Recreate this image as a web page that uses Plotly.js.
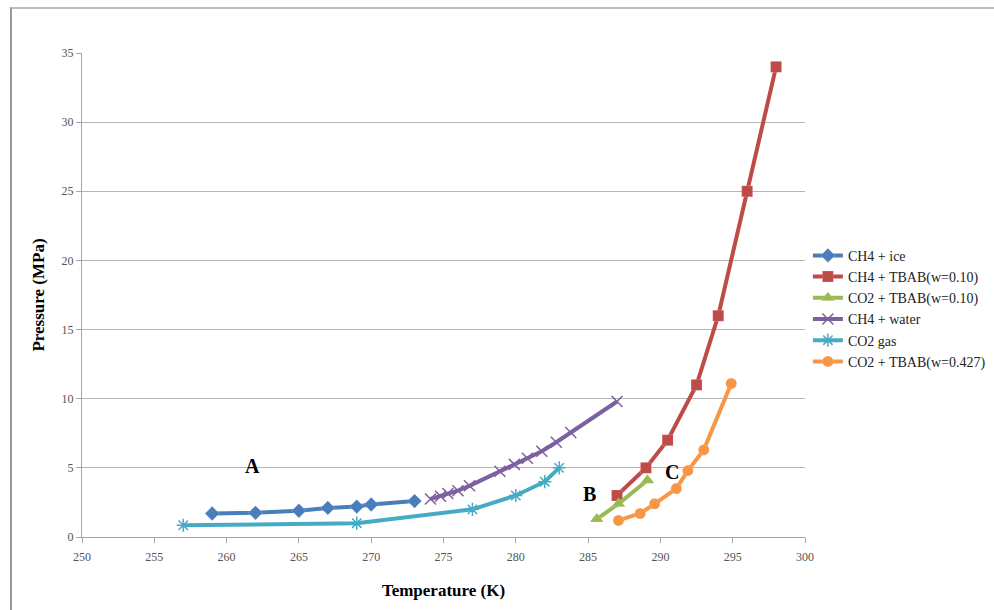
<!DOCTYPE html>
<html>
<head>
<meta charset="utf-8">
<script src="https://cdn.plot.ly/plotly-3.0.1.min.js"></script>
<style>
html,body{margin:0;padding:0;background:#fff;}
#wrap{position:relative;width:994px;height:610px;}
#chart{position:absolute;left:0;top:0;width:994px;height:610px;}
#frame{position:absolute;left:10px;top:7px;width:984px;height:603px;border-top:2px solid #bdbdbd;border-left:2px solid #9a9a9a;pointer-events:none;}
</style>
</head>
<body>
<div id="wrap"><div id="chart"></div><div id="frame"></div></div>
<script>
const ch4IceT = [259, 262, 265, 267, 269, 270, 273];
const ch4IceP = [1.7, 1.75, 1.9, 2.1, 2.2, 2.35, 2.6];

const ch4TbabT = [287, 289, 290.5, 292.5, 294, 296, 298];
const ch4TbabP = [3.0, 5.0, 7.0, 11.0, 16.0, 25.0, 34.0];

const co2Tbab10T = [285.6, 287.1, 289.1];
const co2Tbab10P = [1.3, 2.4, 4.1];

const ch4WaterT = [274.1, 274.8, 275.3, 276.0, 276.8, 278.9, 279.9, 280.8, 281.8, 282.8, 283.8, 287.0];
const ch4WaterP = [2.75, 2.95, 3.15, 3.35, 3.7, 4.75, 5.25, 5.7, 6.2, 6.85, 7.55, 9.8];

const co2GasT = [257, 269, 277, 280, 282, 283];
const co2GasP = [0.85, 1.0, 2.0, 3.0, 4.0, 5.0];

const co2Tbab427T = [287.1, 288.6, 289.6, 291.1, 291.9, 293.0, 294.9];
const co2Tbab427P = [1.2, 1.7, 2.4, 3.5, 4.8, 6.3, 11.1];

const names = ["CH4 + ice", "CH4 + TBAB(w=0.10)", "CO2 + TBAB(w=0.10)", "CH4 + water", "CO2 gas", "CO2 + TBAB(w=0.427)"];
const colors = ["#4a7ebb", "#be4b48", "#98b954", "#7d60a0", "#46aac5", "#f79646"];
const symbols = ["diamond", "square", "triangle-up", "x-thin", "asterisk", "circle"];
const xs = [ch4IceT, ch4TbabT, co2Tbab10T, ch4WaterT, co2GasT, co2Tbab427T];
const ys = [ch4IceP, ch4TbabP, co2Tbab10P, ch4WaterP, co2GasP, co2Tbab427P];

const xTicks = [250, 255, 260, 265, 270, 275, 280, 285, 290, 295, 300];
const yTicks = [0, 5, 10, 15, 20, 25, 30, 35];

const labels = [
  {text: "A", x: 261.8, y: 5.1},
  {text: "B", x: 285.1, y: 3.1},
  {text: "C", x: 290.8, y: 4.7}
];

const traces = names.map((n, i) => {
  const thin = symbols[i] === "x-thin" || symbols[i] === "asterisk";
  return {
    type: "scatter",
    mode: "lines+markers",
    name: n,
    x: xs[i],
    y: ys[i],
    line: {color: colors[i], width: 4},
    marker: {
      symbol: symbols[i],
      size: symbols[i] === "triangle-up" ? 12 : 11,
      color: colors[i],
      line: thin ? {color: colors[i], width: 1.5} : {color: "rgba(255,255,255,0.35)", width: 0.5}
    }
  };
});

const layout = {
  width: 994,
  height: 610,
  margin: {l: 82, r: 189, t: 53, b: 73, autoexpand: false},
  paper_bgcolor: "#ffffff",
  plot_bgcolor: "#ffffff",
  font: {family: "Liberation Serif, Times New Roman, serif", color: "#000"},
  showlegend: true,
  legend: {
    x: 1.004, y: 0.614, xanchor: "left", yanchor: "top",
    font: {family: "Liberation Serif, serif", size: 14, color: "#222"},
    tracegroupgap: 0, itemwidth: 30,
    bgcolor: "rgba(0,0,0,0)"
  },
  xaxis: {
    range: [250, 300],
    tickvals: xTicks,
    ticktext: xTicks.map(String),
    showgrid: false,
    zeroline: false,
    showline: true,
    linecolor: "#a6a6a6",
    linewidth: 1,
    ticks: "outside",
    ticklen: 5,
    tickcolor: "#a6a6a6",
    ticklabelstandoff: 4,
    tickfont: {family: "Liberation Serif, serif", size: 12, color: "#555"},
    title: {text: "<b>Temperature (K)</b>", font: {family: "Liberation Serif, serif", size: 17, color: "#000"}, standoff: 20}
  },
  yaxis: {
    range: [0, 35],
    tickvals: yTicks,
    ticktext: yTicks.map(String),
    showgrid: true,
    gridcolor: "#b5b5b5",
    gridwidth: 1,
    zeroline: false,
    showline: true,
    linecolor: "#a6a6a6",
    linewidth: 1,
    ticks: "outside",
    ticklen: 5,
    tickcolor: "#a6a6a6",
    tickfont: {family: "Liberation Serif, serif", size: 12, color: "#555"},
    title: {text: "<b>Pressure (MPa)</b>", font: {family: "Liberation Serif, serif", size: 17, color: "#000"}, standoff: 12}
  },
  annotations: labels.map(l => ({
    x: l.x, y: l.y, xref: "x", yref: "y", text: "<b>" + l.text + "</b>",
    showarrow: false, font: {family: "Liberation Serif, serif", size: 20, color: "#000"}
  }))
};

Plotly.newPlot("chart", traces, layout, {displayModeBar: false, staticPlot: true});
</script>
</body>
</html>
